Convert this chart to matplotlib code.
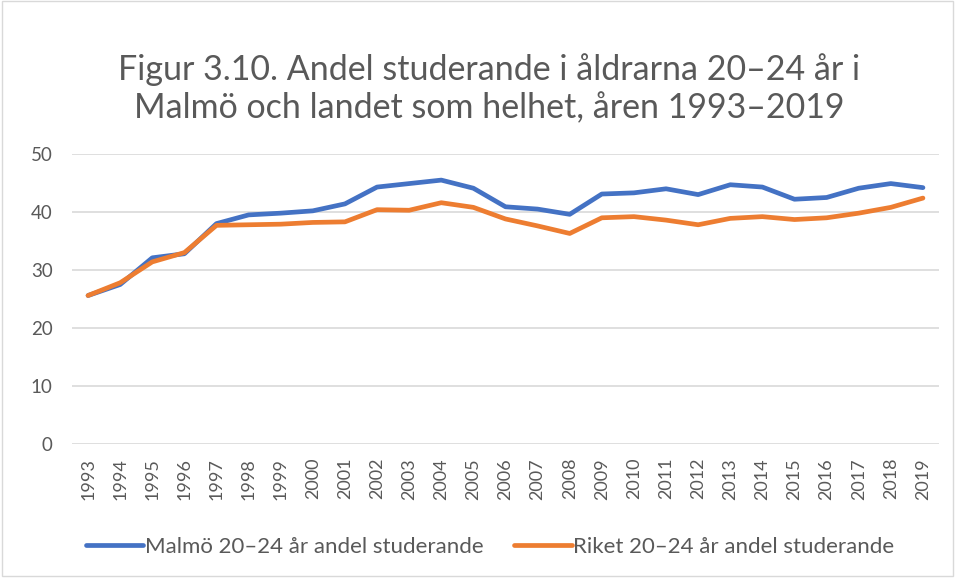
import matplotlib.pyplot as plt
from matplotlib.patches import Rectangle

years = [str(y) for y in range(1993, 2020)]
malmo = [25.6, 27.5, 32.1, 32.8, 38.0, 39.5, 39.8, 40.2, 41.4, 44.3, 44.9, 45.5, 44.1,
         40.9, 40.5, 39.6, 43.1, 43.3, 44.0, 43.0, 44.7, 44.3, 42.2, 42.5, 44.1, 44.9, 44.2]
riket = [25.6, 27.8, 31.4, 33.0, 37.7, 37.8, 37.9, 38.2, 38.3, 40.4, 40.3, 41.6, 40.8,
         38.8, 37.6, 36.3, 39.0, 39.2, 38.6, 37.8, 38.9, 39.2, 38.7, 39.0, 39.8, 40.8, 42.4]
yticks = [0, 10, 20, 30, 40, 50]

plt.rcParams['font.family'] = ['Lato', 'DejaVu Sans']
txt = '#595959'

fig = plt.figure(figsize=(9.55, 5.78), dpi=100)
ax = fig.add_axes([72 / 955, 1 - 444 / 578, 867 / 955, 290 / 578])

x = range(len(years))
ax.plot(x, malmo, color='#4472C4', lw=3.4, solid_capstyle='round', label='Malmö 20–24 år andel studerande')
ax.plot(x, riket, color='#ED7D31', lw=3.4, solid_capstyle='round', label='Riket 20–24 år andel studerande')

ax.set_xlim(-0.5, len(years) - 0.5)
ax.set_ylim(0, 50)
ax.set_yticks(yticks)
ax.set_xticks(list(x))
ax.set_xticklabels(years, rotation=90, fontsize=13, color=txt)
ax.tick_params(axis='y', labelsize=13.5, labelcolor=txt, length=0, pad=14)
ax.tick_params(axis='x', length=0, pad=10)
ax.grid(axis='y', color='#D9D9D9', lw=1.2)
ax.set_axisbelow(True)
for s in ax.spines.values():
    s.set_visible(False)

# title, two lines
fig.text(0.512, 1 - 70 / 578, 'Figur 3.10. Andel studerande i åldrarna 20–24 år i',
         ha='center', va='center', fontsize=24.5, color=txt)
fig.text(0.512, 1 - 108 / 578, 'Malmö och landet som helhet, åren 1993–2019',
         ha='center', va='center', fontsize=24.5, color=txt)

leg = fig.legend(loc='center', bbox_to_anchor=(490 / 955, 1 - 547 / 578), ncol=2, frameon=False,
                 fontsize=16, handlelength=2.6, handletextpad=0.05, columnspacing=1.4)
for t in leg.get_texts():
    t.set_color(txt)

fig.patches.append(Rectangle((0.002, 0.003), 0.996, 0.995, transform=fig.transFigure,
                             fill=False, edgecolor='#D9D9D9', lw=1))

fig.savefig('out.png', dpi=100)
